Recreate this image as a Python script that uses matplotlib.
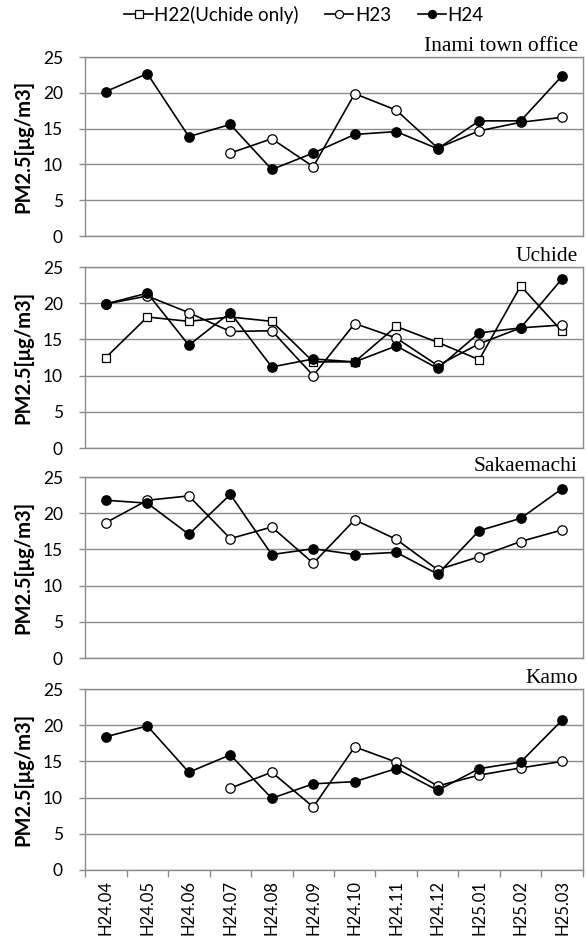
import matplotlib
matplotlib.use("Agg")
import matplotlib.pyplot as plt
from matplotlib.lines import Line2D
import numpy as np

# monthly PM2.5 averages at each monitoring station
months = ["H24.04", "H24.05", "H24.06", "H24.07", "H24.08", "H24.09",
          "H24.10", "H24.11", "H24.12", "H25.01", "H25.02", "H25.03"]

stations = ["Inami town office", "Uchide", "Sakaemachi", "Kamo"]

nan = np.nan
inami_h23 = [nan, nan, nan, 11.6, 13.6, 9.7, 19.9, 17.6, 12.3, 14.7, 15.9, 16.6]
inami_h24 = [20.2, 22.7, 13.9, 15.6, 9.3, 11.6, 14.2, 14.6, 12.2, 16.1, 16.1, 22.4]

uchide_h22 = [12.5, 18.1, 17.5, 18.1, 17.5, 11.9, 11.9, 16.8, 14.6, 12.2, 22.4, 16.1]
uchide_h23 = [19.9, 21.0, 18.7, 16.1, 16.2, 10.0, 17.2, 15.2, 11.4, 14.4, 16.6, 17.0]
uchide_h24 = [19.9, 21.4, 14.2, 18.7, 11.2, 12.3, 11.9, 14.1, 11.0, 15.9, 16.6, 23.4]

sakae_h23 = [18.7, 21.8, 22.4, 16.5, 18.1, 13.1, 19.1, 16.4, 12.2, 14.0, 16.1, 17.7]
sakae_h24 = [21.8, 21.4, 17.1, 22.6, 14.3, 15.1, 14.3, 14.6, 11.6, 17.6, 19.3, 23.4]

kamo_h23 = [nan, nan, nan, 11.3, 13.5, 8.7, 17.0, 14.9, 11.6, 13.1, 14.1, 15.0]
kamo_h24 = [18.4, 19.9, 13.5, 15.9, 9.9, 11.9, 12.2, 14.0, 11.0, 14.0, 14.9, 20.7]

station_series = [
    {"H23": inami_h23, "H24": inami_h24},
    {"H22": uchide_h22, "H23": uchide_h23, "H24": uchide_h24},
    {"H23": sakae_h23, "H24": sakae_h24},
    {"H23": kamo_h23, "H24": kamo_h24},
]

legend_labels = {"H22": "H22(Uchide only)", "H23": "H23", "H24": "H24"}
styles = {
    "H22": dict(marker="s", markerfacecolor="white", markersize=6.2),
    "H23": dict(marker="o", markerfacecolor="white", markersize=6.8),
    "H24": dict(marker="o", markerfacecolor="black", markersize=6.8),
}

sans = ["Lato", "DejaVu Sans"]
serif = ["Liberation Serif", "DejaVu Serif"]
frame_col = "#8c8c8c"

fig = plt.figure(figsize=(5.87, 9.41), dpi=100)

# axes boxes in figure fractions (left, bottom, width, height)
left, width = 0.145, 0.848
bottoms = [0.7492, 0.5239, 0.3007, 0.0755]
heights = [0.190, 0.1923, 0.1923, 0.1923]

x = np.arange(len(months))
for i, (name, series) in enumerate(zip(stations, station_series)):
    ax = fig.add_axes([left, bottoms[i], width, heights[i]])
    for key, vals in series.items():
        ax.plot(x, vals, color="black", linewidth=1.2, markeredgecolor="black",
                markeredgewidth=0.9, zorder=3, **styles[key])

    ax.set_xlim(-0.5, len(months) - 0.5)
    ax.set_ylim(0, 25)
    ax.set_yticks(np.arange(0, 26, 5))
    ax.yaxis.grid(True, color=frame_col, linewidth=1.0)
    ax.set_axisbelow(True)
    for sp in ax.spines.values():
        sp.set_color(frame_col)
        sp.set_linewidth(1.0)
    ax.tick_params(axis="y", length=4, width=1.0, color=frame_col, pad=12,
                   labelsize=12.5)
    for lab in ax.get_yticklabels():
        lab.set_family(sans)

    ax.set_ylabel("PM2.5[μg/m3]", fontsize=14.5, fontweight="bold", family=sans)
    ax.yaxis.set_label_coords(-0.104, 0.5)

    ax.text(0.99, 1.005, name, transform=ax.transAxes, ha="right", va="bottom",
            fontsize=15.5, family=serif)

    if i == len(stations) - 1:
        ax.set_xticks(x)
        ax.set_xticklabels(months, rotation=90, fontsize=12, family=sans)
        ax.set_xticks(np.arange(-0.5, len(months), 1.0), minor=True)
        ax.tick_params(axis="x", which="major", length=0, pad=7)
        ax.tick_params(axis="x", which="minor", length=5, width=1.0,
                       color=frame_col)
    else:
        ax.set_xticks([])

handles = [Line2D([], [], color="black", linewidth=1.2, markeredgecolor="black",
                  markeredgewidth=0.9, **{**styles[k], "markersize": styles[k]["markersize"] - 1})
           for k in ["H22", "H23", "H24"]]
fig.legend(handles, [legend_labels[k] for k in ["H22", "H23", "H24"]],
           loc="upper center", bbox_to_anchor=(0.518, 1.012), ncol=3,
           frameon=False, handlelength=1.5, handletextpad=0.1,
           columnspacing=1.4, prop={"family": sans, "size": 13.5})

fig.savefig("out.png", dpi=100)
